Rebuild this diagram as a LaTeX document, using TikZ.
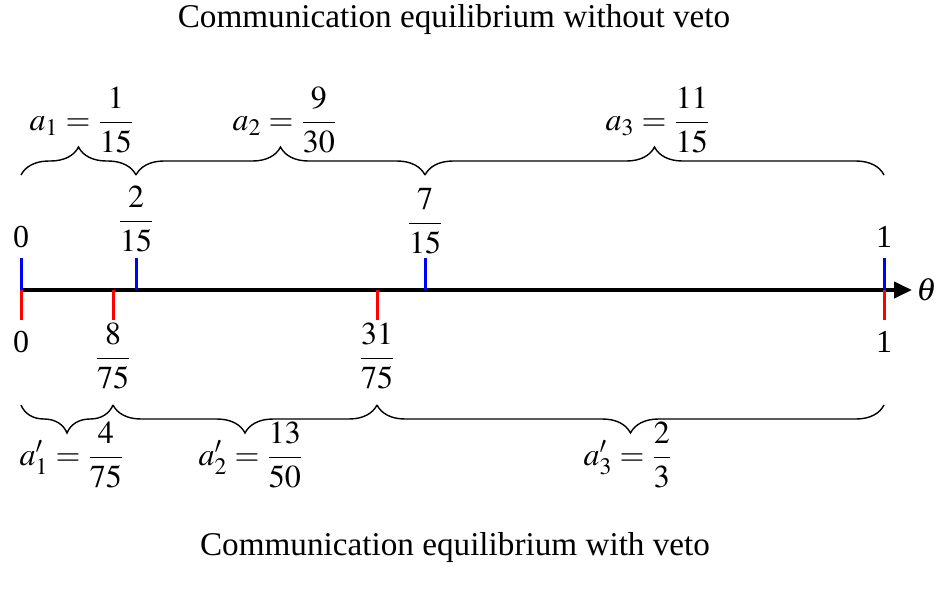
\documentclass[tikz,border=0pt]{standalone}
\usepackage{amsmath}
\usepackage{mathptmx}
\usepackage[no-math]{fontspec}
\setmainfont{Liberation Serif}
\usetikzlibrary{arrows.meta,positioning,decorations.pathreplacing}
\tikzset{lbl/.style={font=\fontsize{16}{19}\selectfont,inner sep=1pt},head/.style={lbl,font=\fontsize{16.6}{20}\selectfont},axis/.style={line width=2pt,-{Triangle[length=9pt,width=8pt]}},up/.style={blue,line width=1.5pt},dn/.style={red,line width=1.5pt},brc/.style={decorate,decoration={brace,amplitude=14pt},line width=0.7pt}}

\begin{document}
\begin{tikzpicture}[x=0.5pt,y=-0.5pt]
\useasboundingbox (0,0) rectangle (942,596);
% axis and ticks
\coordinate (o) at (21,290);\coordinate (e) at (884,290);\coordinate (b1) at (136,290);\coordinate (b2) at (425,290);\coordinate (r1) at (113,290);\coordinate (r2) at (377,290);
\draw[axis] (o) -- (912,290) coordinate (tip);
\node[lbl,right=1pt of tip] (th) {$\theta$};
\foreach \p in {o,b1,b2,e} \draw[up] (\p) -- ++(0,-32);
\foreach \p in {o,r1,r2,e} \draw[dn] (\p) -- ++(0,30);
% top labels
\node[head] (ttl) at (454,20) {Communication equilibrium without veto};
\node[lbl] (t0) at (21,237) {0};\node[lbl] (t1) at (884,237) {1};
\node[lbl] (tb1) at (136,219) {$\dfrac{2}{15}$};\node[lbl] (tb2) at (425,221) {$\dfrac{7}{15}$};
\draw[brc] (21,175) -- (136,175);\draw[brc] (136,175) -- (425,175);\draw[brc] (425,175) -- (884,175);
\node[lbl] (a1) at (82,120) {$a_1=\dfrac{1}{15}$};\node[lbl] (a2) at (285,120) {$a_2=\dfrac{9}{30}$};\node[lbl] (a3) at (658,120) {$a_3=\dfrac{11}{15}$};
% bottom labels
\node[lbl] (bt0) at (21,342) {0};\node[lbl] (bt1) at (884,342) {1};
\node[lbl] (br1) at (113,356) {$\dfrac{8}{75}$};\node[lbl] (br2) at (377,356) {$\dfrac{31}{75}$};
\draw[brc] (113,405) -- (21,405);\draw[brc] (377,405) -- (113,405);\draw[brc] (884,405) -- (377,405);
\node[lbl] (c1) at (72,455) {$a_1^{\prime}=\dfrac{4}{75}$};\node[lbl] (c2) at (251,455) {$a_2^{\prime}=\dfrac{13}{50}$};\node[lbl] (c3) at (628,455) {$a_3^{\prime}=\dfrac{2}{3}$};
\node[head] (btl) at (455,548) {Communication equilibrium with veto};
\end{tikzpicture}
\end{document}
